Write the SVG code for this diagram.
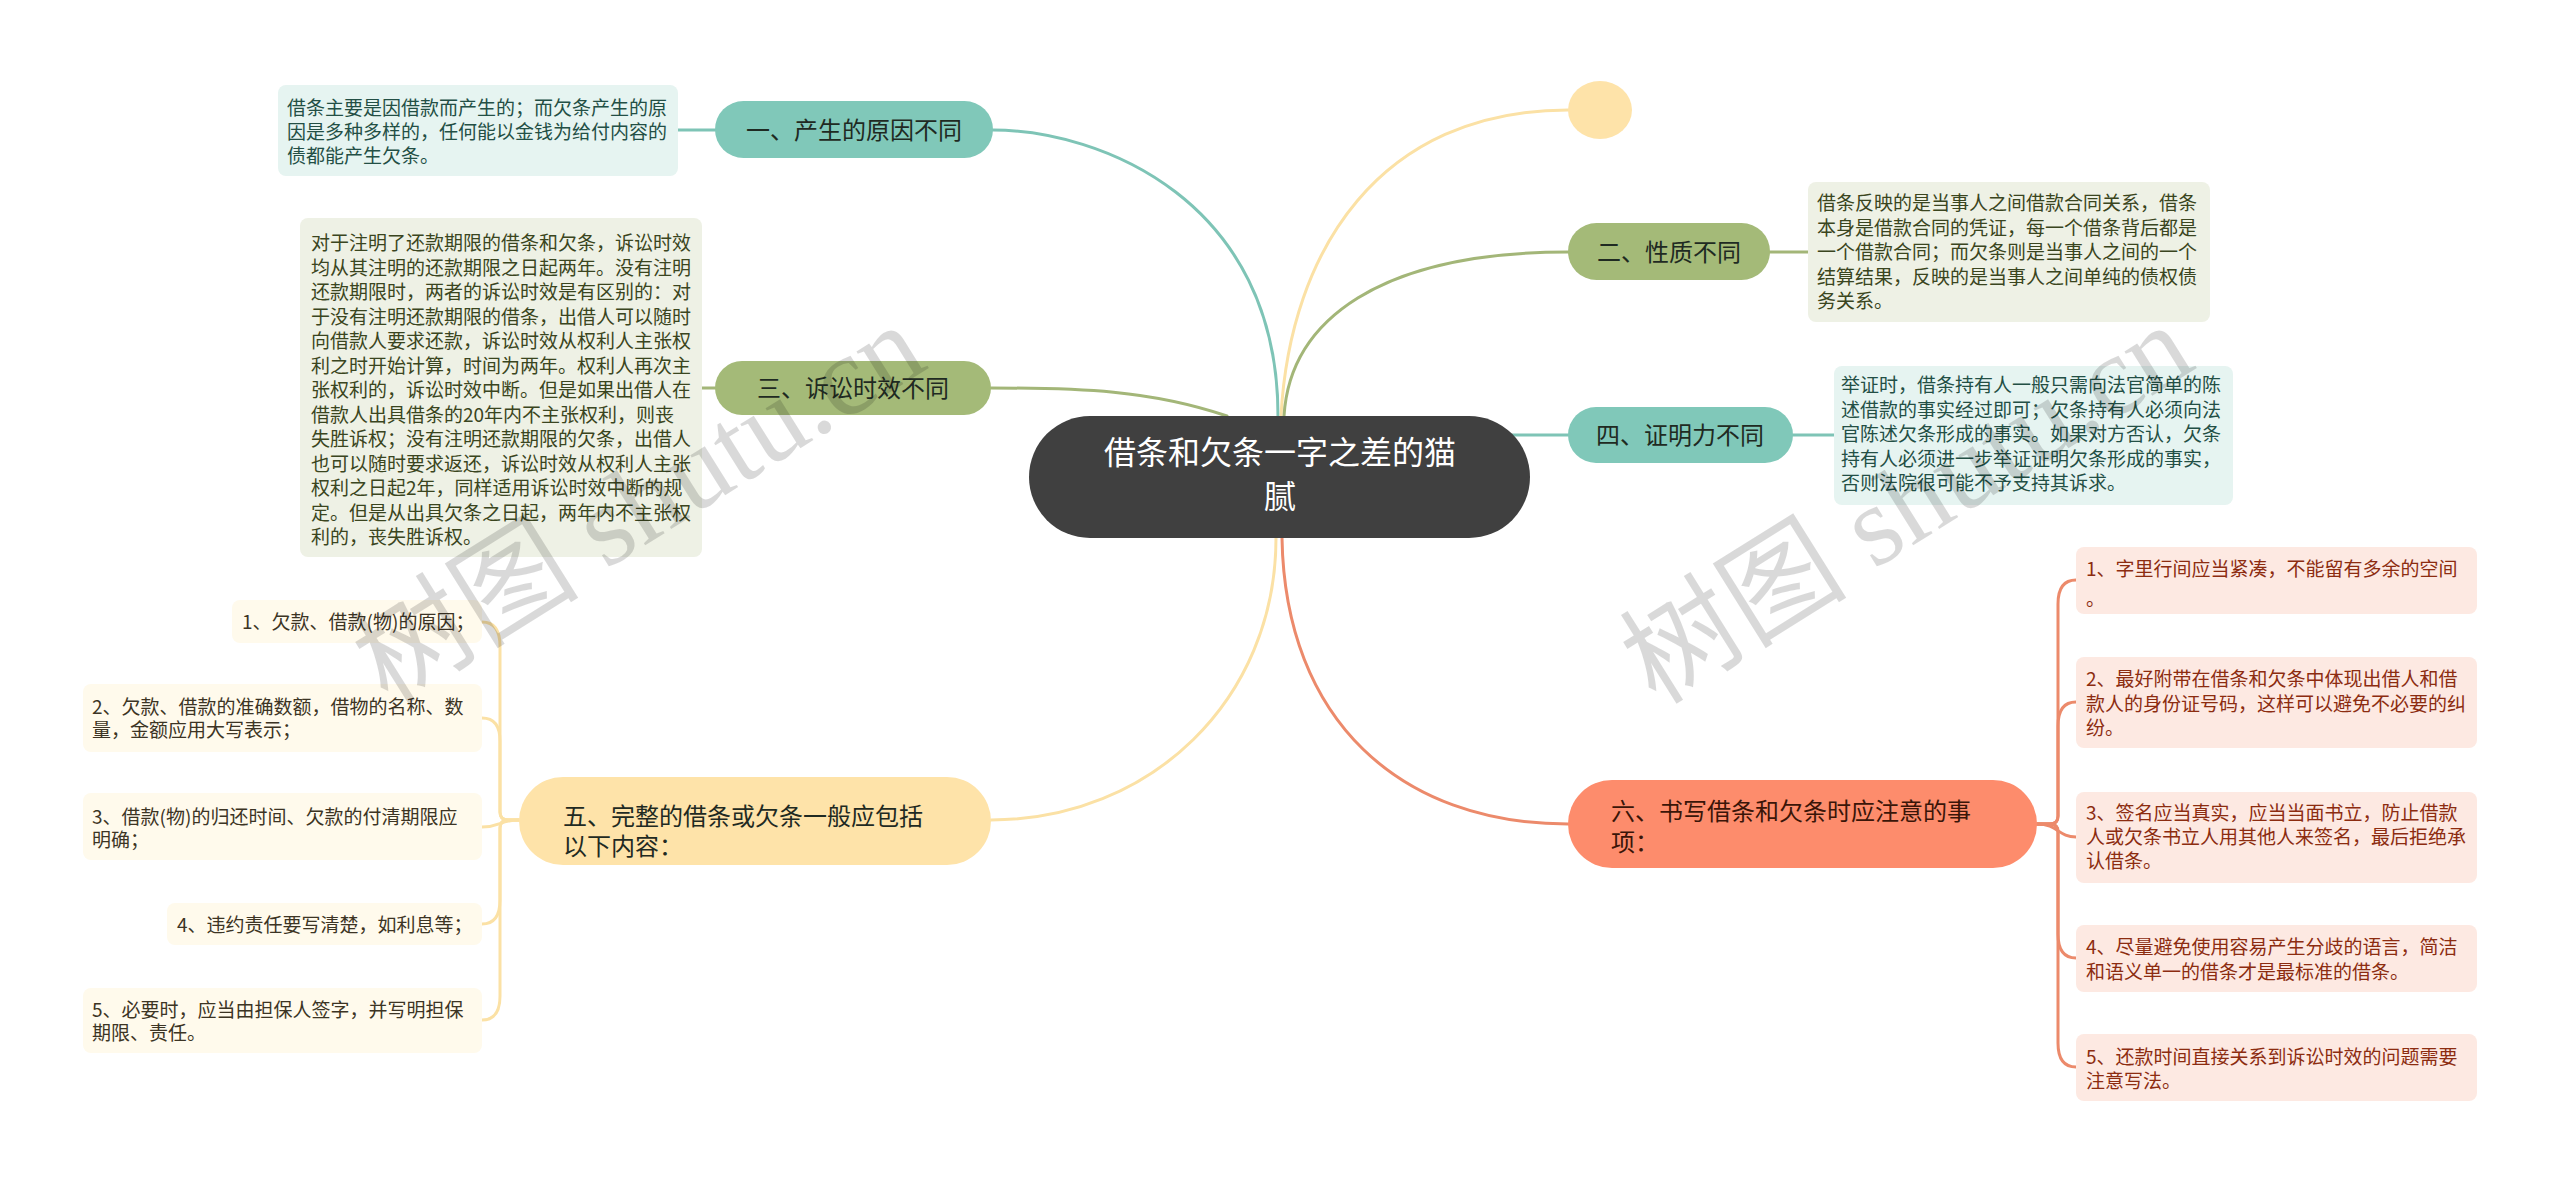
<svg xmlns="http://www.w3.org/2000/svg" width="2560" height="1184" viewBox="0 0 2560 1184">
<style>
text{font-family:"Noto Sans CJK SC","Noto Sans",sans-serif;}
.c{fill:none;stroke-width:3;stroke-linecap:round;}
.teal{stroke:#7ec4b6}.green{stroke:#a3b678}.yel{stroke:#fbe1a5}.org{stroke:#ec8a6b}
.nt{fill:#80c8b9}.ng{fill:#a4ba78}.ny{fill:#fee3a9}.no{fill:#fd8c6c}
.bt{fill:#e6f4f1}.bg{fill:#eef1e5}.by{fill:#fffaec}.bo{fill:#fde9e2}
.lbl{font-size:24px;fill:#1f2a22}
.lblc{font-size:24px;fill:#1f2a22;text-anchor:middle}
.tt{font-size:19px;fill:#234f45}.tg{font-size:19px;fill:#3a4520}.ty{font-size:19px;fill:#3c3424}.to{font-size:19px;fill:#8c2c10}
.wm{font-family:"Liberation Serif","Noto Sans CJK SC",serif;font-size:114px;fill:#000;fill-opacity:0.15}
</style>
<rect width="2560" height="1184" fill="#ffffff"/>
<g id="connectors">
<path class="c teal" d="M1278 416 C1278 200 1100 130 993 130"/>
<path class="c yel" d="M1281 416 C1290 250 1380 110 1568 110"/>
<path class="c green" d="M1284 416 C1290 320 1380 252 1568 252"/>
<path class="c green" d="M1227 416 C1150 390 1080 388 991 388"/>
<path class="c teal" d="M1512 435 L1568 435"/>
<path class="c yel" d="M1276 538 C1276 700 1150 820 991 820"/>
<path class="c org" d="M1282 538 C1285 720 1400 824 1568 824"/>
<path class="c teal" d="M678 130 L715 130"/>
<path class="c green" d="M702 388 L715 388"/>
<path class="c green" d="M1770 252 L1808 252"/>
<path class="c teal" d="M1793 435 L1834 435"/>
<path class="c yel" d="M519 820 H508 Q500 820 500 812 V646 Q500 622 482 622"/>
<path class="c yel" d="M519 820 H508 Q500 820 500 812 V741 Q500 718 482 718"/>
<path class="c yel" d="M519 820 C500 820 500 827 482 827"/>
<path class="c yel" d="M519 820 H508 Q500 820 500 828 V900 Q500 924 482 924"/>
<path class="c yel" d="M519 820 H508 Q500 820 500 828 V996 Q500 1020 482 1020"/>
<path class="c org" d="M2037 824 H2050 Q2058 824 2058 816 V604 Q2058 580 2076 580"/>
<path class="c org" d="M2037 824 H2050 Q2058 824 2058 816 V726 Q2058 702 2076 702"/>
<path class="c org" d="M2037 824 C2058 824 2058 837 2076 837"/>
<path class="c org" d="M2037 824 H2050 Q2058 824 2058 832 V934 Q2058 958 2076 958"/>
<path class="c org" d="M2037 824 H2050 Q2058 824 2058 832 V1043 Q2058 1067 2076 1067"/>
</g>
<g id="center">
<rect x="1029" y="416" width="501" height="122" rx="61" fill="#404040"/>
<text x="1280" y="464" font-size="32" fill="#ffffff" text-anchor="middle">借条和欠条一字之差的猫</text>
<text x="1280" y="508" font-size="32" fill="#ffffff" text-anchor="middle">腻</text>
</g>
<g id="n1">
<rect class="nt" x="715" y="101" width="278" height="57" rx="28.5"/>
<text class="lblc" x="854" y="139">一、产生的原因不同</text>
</g>
<g id="n1-note">
<rect class="bt" x="278" y="85" width="400" height="91" rx="8"/>
<text class="tt" x="287" y="115">借条主要是因借款而产生的；而欠条产生的原</text>
<text class="tt" x="287" y="139">因是多种多样的，任何能以金钱为给付内容的</text>
<text class="tt" x="287" y="163">债都能产生欠条。</text>
</g>
<g id="n3">
<rect class="ng" x="715" y="361" width="276" height="54" rx="27"/>
<text class="lblc" x="853" y="397">三、诉讼时效不同</text>
</g>
<g id="n3-note">
<rect class="bg" x="300" y="218" width="402" height="339" rx="8"/>
<text class="tg" x="311" y="250">对于注明了还款期限的借条和欠条，诉讼时效</text>
<text class="tg" x="311" y="274.5">均从其注明的还款期限之日起两年。没有注明</text>
<text class="tg" x="311" y="299">还款期限时，两者的诉讼时效是有区别的：对</text>
<text class="tg" x="311" y="323.5">于没有注明还款期限的借条，出借人可以随时</text>
<text class="tg" x="311" y="348">向借款人要求还款，诉讼时效从权利人主张权</text>
<text class="tg" x="311" y="372.5">利之时开始计算，时间为两年。权利人再次主</text>
<text class="tg" x="311" y="397">张权利的，诉讼时效中断。但是如果出借人在</text>
<text class="tg" x="311" y="421.5">借款人出具借条的20年内不主张权利，则丧</text>
<text class="tg" x="311" y="446">失胜诉权；没有注明还款期限的欠条，出借人</text>
<text class="tg" x="311" y="470.5">也可以随时要求返还，诉讼时效从权利人主张</text>
<text class="tg" x="311" y="495">权利之日起2年，同样适用诉讼时效中断的规</text>
<text class="tg" x="311" y="519.5">定。但是从出具欠条之日起，两年内不主张权</text>
<text class="tg" x="311" y="544">利的，丧失胜诉权。</text>
</g>
<g id="n5">
<rect class="ny" x="519" y="777" width="472" height="88" rx="44"/>
<text class="lbl" x="563" y="825">五、完整的借条或欠条一般应包括</text>
<text class="lbl" x="563" y="855">以下内容：</text>
</g>
<g id="n5-1">
<rect class="by" x="232" y="600" width="250" height="43" rx="8"/>
<text class="ty" x="242" y="629">1、欠款、借款(物)的原因；</text>
</g>
<g id="n5-2">
<rect class="by" x="83" y="684" width="399" height="68" rx="8"/>
<text class="ty" x="92" y="714">2、欠款、借款的准确数额，借物的名称、数</text>
<text class="ty" x="92" y="737">量，金额应用大写表示；</text>
</g>
<g id="n5-3">
<rect class="by" x="83" y="793" width="399" height="67" rx="8"/>
<text class="ty" x="92" y="824">3、借款(物)的归还时间、欠款的付清期限应</text>
<text class="ty" x="92" y="847">明确；</text>
</g>
<g id="n5-4">
<rect class="by" x="167" y="903" width="315" height="42" rx="8"/>
<text class="ty" x="177" y="932">4、违约责任要写清楚，如利息等；</text>
</g>
<g id="n5-5">
<rect class="by" x="83" y="988" width="399" height="65" rx="8"/>
<text class="ty" x="92" y="1017">5、必要时，应当由担保人签字，并写明担保</text>
<text class="ty" x="92" y="1040">期限、责任。</text>
</g>
<g id="n-empty">
<ellipse cx="1600" cy="110" rx="32" ry="29" class="ny"/>
</g>
<g id="n2">
<rect class="ng" x="1568" y="223" width="202" height="57" rx="28.5"/>
<text class="lblc" x="1669" y="261">二、性质不同</text>
</g>
<g id="n2-note">
<rect class="bg" x="1808" y="182" width="402" height="140" rx="8"/>
<text class="tg" x="1817" y="210">借条反映的是当事人之间借款合同关系，借条</text>
<text class="tg" x="1817" y="234.5">本身是借款合同的凭证，每一个借条背后都是</text>
<text class="tg" x="1817" y="259">一个借款合同；而欠条则是当事人之间的一个</text>
<text class="tg" x="1817" y="283.5">结算结果，反映的是当事人之间单纯的债权债</text>
<text class="tg" x="1817" y="308">务关系。</text>
</g>
<g id="n4">
<rect class="nt" x="1568" y="407" width="225" height="56" rx="28"/>
<text class="lblc" x="1680" y="444">四、证明力不同</text>
</g>
<g id="n4-note">
<rect class="bt" x="1834" y="366" width="399" height="139" rx="8"/>
<text class="tt" x="1841" y="392">举证时，借条持有人一般只需向法官简单的陈</text>
<text class="tt" x="1841" y="416.5">述借款的事实经过即可；欠条持有人必须向法</text>
<text class="tt" x="1841" y="441">官陈述欠条形成的事实。如果对方否认，欠条</text>
<text class="tt" x="1841" y="465.5">持有人必须进一步举证证明欠条形成的事实，</text>
<text class="tt" x="1841" y="490">否则法院很可能不予支持其诉求。</text>
</g>
<g id="n6">
<rect class="no" x="1568" y="780" width="469" height="88" rx="44"/>
<text class="lbl" x="1611" y="820" style="fill:#3a1508">六、书写借条和欠条时应注意的事</text>
<text class="lbl" x="1611" y="851" style="fill:#3a1508">项：</text>
</g>
<g id="n6-1">
<rect class="bo" x="2076" y="547" width="401" height="67" rx="8"/>
<text class="to" x="2086" y="576">1、字里行间应当紧凑，不能留有多余的空间</text>
<text class="to" x="2086" y="606">。</text>
</g>
<g id="n6-2">
<rect class="bo" x="2076" y="657" width="401" height="91" rx="8"/>
<text class="to" x="2086" y="686">2、最好附带在借条和欠条中体现出借人和借</text>
<text class="to" x="2086" y="711">款人的身份证号码，这样可以避免不必要的纠</text>
<text class="to" x="2086" y="735">纷。</text>
</g>
<g id="n6-3">
<rect class="bo" x="2076" y="792" width="401" height="91" rx="8"/>
<text class="to" x="2086" y="820">3、签名应当真实，应当当面书立，防止借款</text>
<text class="to" x="2086" y="844">人或欠条书立人用其他人来签名，最后拒绝承</text>
<text class="to" x="2086" y="868">认借条。</text>
</g>
<g id="n6-4">
<rect class="bo" x="2076" y="925" width="401" height="67" rx="8"/>
<text class="to" x="2086" y="954">4、尽量避免使用容易产生分歧的语言，简洁</text>
<text class="to" x="2086" y="979">和语义单一的借条才是最标准的借条。</text>
</g>
<g id="n6-5">
<rect class="bo" x="2076" y="1034" width="401" height="67" rx="8"/>
<text class="to" x="2086" y="1064">5、还款时间直接关系到诉讼时效的问题需要</text>
<text class="to" x="2086" y="1088">注意写法。</text>
</g>
<g id="watermarks">
<text class="wm" transform="translate(388 706) rotate(-32)">树图 shutu.cn</text>
<text class="wm" transform="translate(1656 706) rotate(-32)">树图 shutu.cn</text>
</g>
</svg>
